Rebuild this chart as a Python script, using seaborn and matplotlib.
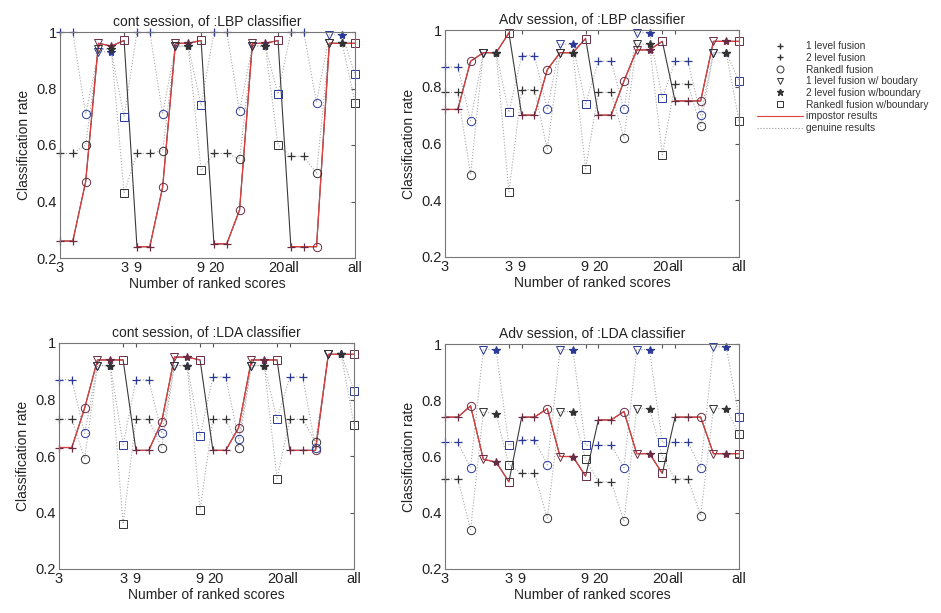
import numpy as np
import pandas as pd
import matplotlib
matplotlib.use('Agg')
import matplotlib.pyplot as plt
import seaborn as sns
from matplotlib.lines import Line2D

# x positions: 4 groups (3, 9, 20, all) x 6 fusion methods
methods = ['1 level fusion', '2 level fusion', 'Rankedl fusion',
           '1 level fusion w/ boudary', '2 level fusion w/boundary', 'Rankedl fusion w/boundary']
method_markers = ['+', '+', 'o', 'v', '*', 's']
groups = ['3', '9', '20', 'all']
tick_pos = [0, 5, 6, 11, 12, 17, 18, 23]
tick_labels = ['3', '3', '9', '9', '20', '20', 'all', 'all']

titles = ['cont session, of :LBP classifier', 'Adv session, of :LBP classifier',
          'cont session, of :LDA classifier', 'Adv session, of :LDA classifier']

# impostor results (solid line)
imp_cont_lbp = [0.26, 0.26, 0.47, 0.96, 0.95, 0.97, 0.24, 0.24, 0.45, 0.96, 0.96, 0.97,
                0.25, 0.25, 0.37, 0.96, 0.96, 0.97, 0.24, 0.24, 0.24, 0.96, 0.96, 0.96]
imp_adv_lbp = [0.72, 0.72, 0.89, 0.92, 0.92, 0.99, 0.70, 0.70, 0.86, 0.92, 0.92, 0.97,
               0.70, 0.70, 0.82, 0.93, 0.93, 0.96, 0.75, 0.75, 0.75, 0.96, 0.96, 0.96]
imp_cont_lda = [0.63, 0.63, 0.77, 0.94, 0.94, 0.94, 0.62, 0.62, 0.72, 0.95, 0.95, 0.94,
                0.62, 0.62, 0.70, 0.94, 0.94, 0.94, 0.62, 0.62, 0.62, 0.96, 0.96, 0.96]
imp_adv_lda = [0.74, 0.74, 0.78, 0.59, 0.58, 0.51, 0.74, 0.74, 0.77, 0.60, 0.60, 0.53,
               0.73, 0.73, 0.76, 0.61, 0.61, 0.54, 0.74, 0.74, 0.74, 0.61, 0.61, 0.61]

# genuine results (dotted lines)
gen1_cont_lbp = [1.0, 1.0, 0.71, 0.93, 0.93, 0.70, 1.0, 1.0, 0.71, 0.95, 0.95, 0.74,
                 1.0, 1.0, 0.72, 0.95, 0.95, 0.78, 1.0, 1.0, 0.75, 0.99, 0.99, 0.85]
gen2_cont_lbp = [0.57, 0.57, 0.60, 0.94, 0.94, 0.43, 0.57, 0.57, 0.58, 0.95, 0.95, 0.51,
                 0.57, 0.57, 0.55, 0.95, 0.95, 0.60, 0.56, 0.56, 0.50, 0.96, 0.96, 0.75]
gen1_adv_lbp = [0.87, 0.87, 0.68, 0.92, 0.92, 0.71, 0.91, 0.91, 0.72, 0.95, 0.95, 0.74,
                0.89, 0.89, 0.72, 0.99, 0.99, 0.76, 0.89, 0.89, 0.70, 0.92, 0.92, 0.82]
gen2_adv_lbp = [0.78, 0.78, 0.49, 0.92, 0.92, 0.43, 0.79, 0.79, 0.58, 0.92, 0.92, 0.51,
                0.78, 0.78, 0.62, 0.95, 0.95, 0.56, 0.81, 0.81, 0.66, 0.92, 0.92, 0.68]
gen1_cont_lda = [0.87, 0.87, 0.68, 0.92, 0.92, 0.64, 0.87, 0.87, 0.68, 0.92, 0.92, 0.67,
                 0.88, 0.88, 0.66, 0.92, 0.92, 0.73, 0.88, 0.88, 0.63, 0.96, 0.96, 0.83]
gen2_cont_lda = [0.73, 0.73, 0.59, 0.92, 0.92, 0.36, 0.73, 0.73, 0.63, 0.92, 0.92, 0.41,
                 0.73, 0.73, 0.63, 0.92, 0.92, 0.52, 0.73, 0.73, 0.65, 0.96, 0.96, 0.71]
gen1_adv_lda = [0.65, 0.65, 0.56, 0.98, 0.98, 0.64, 0.66, 0.66, 0.57, 0.98, 0.98, 0.64,
                0.64, 0.64, 0.56, 0.98, 0.98, 0.65, 0.65, 0.65, 0.56, 0.99, 0.99, 0.74]
gen2_adv_lda = [0.52, 0.52, 0.34, 0.76, 0.75, 0.57, 0.54, 0.54, 0.38, 0.76, 0.76, 0.59,
                0.51, 0.51, 0.37, 0.77, 0.77, 0.60, 0.52, 0.52, 0.39, 0.77, 0.77, 0.68]

panels = [
    (imp_cont_lbp, gen1_cont_lbp, gen2_cont_lbp),
    (imp_adv_lbp, gen1_adv_lbp, gen2_adv_lbp),
    (imp_cont_lda, gen1_cont_lda, gen2_cont_lda),
    (imp_adv_lda, gen1_adv_lda, gen2_adv_lda),
]

# axes boxes in pixels (left, right, top, bottom)
boxes = [(60, 355, 32, 258), (445, 739, 30, 257), (59, 354, 343, 569), (445, 739, 344, 569)]

# tick label alignment / nudge (points) so the close pairs don't collide
tick_align = ['center', 'center', 'center', 'center', 'center', 'right', 'left', 'center']
tick_nudge = [0, 0, 0, -0.5, 1.5, 4.5, -4.5, 0]

sns.set_style('white')
plt.rcParams['font.family'] = ['Liberation Sans', 'DejaVu Sans']

W, H = 941, 613
fig = plt.figure(figsize=(W / 100, H / 100), dpi=100)

series_colors = {'imp': '#6a2c44', 'gen1': '#2b3a96', 'gen2': '#333333'}

for k, (imp, gen1, gen2) in enumerate(panels):
    l, r, t, b = boxes[k]
    ax = fig.add_axes([l / W, 1 - b / H, (r - l) / W, (b - t) / H])

    x = np.arange(len(imp))
    df = pd.DataFrame({'x': x, 'imp': imp, 'gen1': gen1, 'gen2': gen2,
                       'group': np.repeat(groups, len(methods)),
                       'method': methods * len(groups)})

    # genuine results, dotted
    for col in ['gen1', 'gen2']:
        sns.lineplot(data=df, x='x', y=col, ax=ax, color='#a8a8a8', lw=0.8,
                     linestyle=':', estimator=None)
    # impostor results: black across groups, red inside each group
    sns.lineplot(data=df, x='x', y='imp', ax=ax, color='#3a3a3a', lw=0.8, estimator=None)
    sns.lineplot(data=df, x='x', y='imp', units='group', ax=ax, color='#e04040', lw=0.9,
                 estimator=None)

    # markers per fusion method
    for col in ['imp', 'gen1', 'gen2']:
        for m, mk in zip(methods, method_markers):
            sub = df[df['method'] == m]
            if mk in ['o', 'v', 's']:
                ax.plot(sub['x'], sub[col], linestyle='none', marker=mk, ms=6,
                        mfc='none', mec=series_colors[col], mew=0.7, clip_on=False)
            else:
                ax.plot(sub['x'], sub[col], linestyle='none', marker=mk, ms=6,
                        color=series_colors[col], mew=0.9, clip_on=False)

    ax.set_xlim(0, 23)
    ax.set_ylim(0.2, 1.0)
    ax.set_xticks(tick_pos)
    ax.set_xticklabels([''] * len(tick_pos))
    for p, lab, ha, dx in zip(tick_pos, tick_labels, tick_align, tick_nudge):
        ax.annotate(lab, xy=(p, 0), xycoords=('data', 'axes fraction'),
                    xytext=(dx, -2.5), textcoords='offset points', ha=ha, va='top',
                    fontsize=10.5, color='#222222', annotation_clip=False)
    ax.set_yticks([0.2, 0.4, 0.6, 0.8, 1.0])
    ax.set_yticklabels(['0.2', '0.4', '0.6', '0.8', '1'])
    ax.tick_params(direction='in', top=True, right=True, length=3, labelsize=10.5,
                   colors='#555555', labelcolor='#222222', pad=2)
    for s in ax.spines.values():
        s.set_color('#777777')
        s.set_linewidth(0.8)
    ax.set_title(titles[k], fontsize=10, color='#222222', pad=4)
    ax.set_xlabel('Number of ranked scores', fontsize=10, color='#222222', labelpad=12)
    ax.set_ylabel('Classification rate', fontsize=10, color='#222222', labelpad=4)

# legend
handles = []
for m, mk in zip(methods, method_markers):
    if mk in ['o', 'v', 's']:
        handles.append(Line2D([], [], linestyle='none', marker=mk, ms=5, mfc='none',
                              mec='#333333', mew=0.7))
    else:
        handles.append(Line2D([], [], linestyle='none', marker=mk, ms=5, color='#333333'))
handles.append(Line2D([], [], color='#e04040', lw=0.8))
handles.append(Line2D([], [], color='#9a9a9a', lw=0.8, linestyle=':'))
labels = methods + ['impostor results', 'genuine results']
fig.legend(handles, labels, loc='upper left', bbox_to_anchor=(752 / W, 1 - 36 / H),
           frameon=False, fontsize=7.3, handlelength=4.5, labelspacing=0.17,
           handletextpad=0.3, borderpad=0, labelcolor='#333333')

fig.savefig('out.png', dpi=100)
